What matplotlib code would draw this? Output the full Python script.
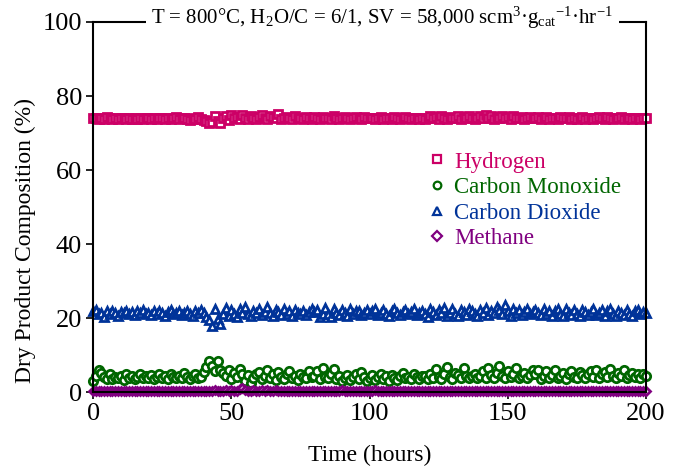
import numpy as np
import matplotlib
matplotlib.use('Agg')
import matplotlib.pyplot as plt

plt.rcParams['font.family'] = ['Liberation Serif', 'DejaVu Serif']
plt.rcParams['mathtext.fontset'] = 'custom'
plt.rcParams['mathtext.rm'] = 'Liberation Serif'
plt.rcParams['mathtext.it'] = 'Liberation Serif:italic'

# time on stream, hours (one reading per hour)
hours = np.arange(0, 201, 1)

hydrogen = [
    74.2, 74.0, 73.8, 74.1, 73.9, 74.3, 74.0, 73.8, 74.1, 73.9, 74.0, 74.2, 73.8, 74.0, 73.9, 74.1, 73.7, 74.0, 73.9, 74.2,
    74.0, 73.8, 74.1, 73.9, 74.2, 74.0, 73.7, 74.1, 73.9, 74.0, 74.3, 73.8, 74.0, 74.2, 73.9, 73.6, 74.1, 73.8, 74.4, 73.9,
    73.5, 73.2, 72.6, 73.0, 74.6, 73.2, 72.8, 74.0, 74.5, 73.6, 74.8, 74.0, 74.3, 73.8, 74.9, 74.1, 73.7, 74.6, 74.0, 73.9,
    74.4, 75.0, 74.1, 73.8, 74.6, 74.3, 74.0, 75.1, 73.9, 74.2, 74.4, 74.0, 73.8, 74.5, 74.1, 74.0, 73.9, 74.3, 74.1, 73.8,
    74.3, 74.0, 73.8, 74.4, 74.1, 74.0, 73.9, 74.5, 74.2, 73.9, 74.1, 74.3, 74.0, 73.7, 74.2, 74.4, 74.0, 73.8, 74.3, 74.1,
    74.0, 74.2, 73.9, 74.1, 74.3, 73.8, 74.0, 74.2, 73.9, 74.4, 74.1, 73.8, 74.0, 74.3, 74.1, 73.9, 74.2, 74.0, 73.8, 74.1,
    73.8, 74.2, 74.6, 74.0, 74.3, 73.9, 74.5, 74.1, 73.8, 74.4, 74.0, 74.2, 74.7, 73.9, 74.3, 74.0, 74.5, 74.1, 73.8, 74.2,
    74.5, 74.0, 74.8, 74.2, 74.6, 73.9, 74.4, 74.1, 74.7, 74.0, 74.3, 73.9, 74.5, 74.2, 74.0, 74.4, 73.8, 74.1, 74.3, 74.0,
    74.0, 74.3, 73.9, 74.1, 74.4, 73.8, 74.2, 74.0, 73.9, 74.3, 74.1, 74.0, 74.4, 73.8, 74.2, 73.9, 74.1, 74.3, 73.7, 74.0,
    74.2, 73.9, 74.1, 74.4, 74.0, 73.8, 74.3, 74.1, 73.9, 74.2, 74.0, 74.3, 73.8, 74.1, 74.0, 73.9, 74.2, 74.0, 73.8, 74.1,
    74.0]
co2 = [
    21.8, 22.2, 21.0, 21.5, 20.2, 21.9, 21.2, 22.0, 21.4, 20.6, 21.7, 21.3, 22.0, 21.1, 21.6, 20.9, 21.8, 21.3, 22.1, 21.0,
    21.5, 20.8, 21.9, 21.2, 22.0, 21.4, 20.7, 21.6, 22.1, 21.0, 21.5, 21.9, 20.9, 21.4, 22.0, 21.2, 20.6, 21.8, 21.3, 22.1,
    21.5, 20.4, 19.5, 18.0, 22.5, 19.8, 18.3, 21.0, 22.8, 20.5, 22.3, 21.0, 20.2, 22.6, 21.4, 22.9, 21.0, 20.6, 22.0, 21.5,
    22.5, 20.8, 21.6, 22.9, 21.3, 20.5, 22.2, 21.7, 20.9, 22.4, 21.1, 21.8, 20.6, 22.3, 21.5, 21.0, 22.0, 20.8, 21.7, 22.4,
    21.6, 22.3, 20.3, 21.2, 22.7, 21.0, 20.2, 22.4, 21.5, 20.8, 22.2, 21.3, 20.6, 22.6, 21.0, 21.8, 22.0, 20.9, 21.4, 22.3,
    21.0, 21.8, 22.4, 20.9, 21.5, 22.1, 21.2, 20.7, 21.9, 22.5, 21.3, 20.8, 21.6, 22.2, 21.0, 21.7, 22.6, 20.9, 21.4, 22.0,
    21.0, 20.4, 22.5, 21.6, 20.8, 22.2, 21.3, 22.8, 20.7, 21.5, 22.4, 21.0, 20.5, 22.3, 21.7, 20.8, 22.6, 21.9, 21.2, 20.6,
    22.3, 21.5, 22.8, 20.9, 22.0, 21.4, 23.0, 22.2, 21.1, 23.6, 21.8, 20.7, 22.5, 21.3, 22.1, 20.9, 21.7, 22.4, 21.0, 21.6,
    22.3, 21.5, 20.8, 22.5, 21.1, 22.0, 20.6, 21.8, 22.6, 21.2, 20.7, 22.4, 21.5, 20.9, 22.2, 21.0, 20.5, 22.3, 21.6, 20.9,
    21.7, 22.5, 20.8, 21.4, 22.2, 20.6, 21.9, 22.4, 21.1, 20.7, 22.0, 21.5, 20.9, 22.3, 21.2, 20.6, 21.8, 22.1, 21.0, 21.6,
    21.5]
co = [
    3.0, 4.5, 6.0, 5.2, 4.0, 3.5, 4.8, 3.6, 4.2, 3.8, 4.5, 3.4, 4.9, 3.9, 4.3, 3.5, 4.0, 5.0, 3.7, 4.4,
    3.8, 4.6, 3.5, 4.2, 5.0, 3.9, 4.4, 3.6, 4.8, 4.1, 3.7, 4.5, 3.9, 5.1, 4.0, 3.6, 4.3, 4.8, 3.9, 4.2,
    5.5, 6.8, 8.5, 7.0, 5.8, 8.3, 6.0, 5.2, 4.5, 6.0, 3.5, 5.2, 4.0, 6.2, 5.0, 3.0, 4.6, 2.5, 3.8, 4.8,
    5.5, 3.6, 4.4, 6.0, 3.9, 4.8, 3.2, 5.4, 4.1, 3.6, 4.9, 5.7, 3.8, 4.4, 3.3, 5.0, 4.2, 3.7, 5.6, 4.0,
    4.5, 5.8, 3.6, 6.5, 4.2, 3.8, 5.0, 6.2, 3.5, 4.4, 3.0, 3.8, 4.6, 3.4, 4.0, 4.8, 3.6, 5.5, 4.2, 3.0,
    3.8, 4.6, 3.3, 4.1, 5.0, 3.6, 4.3, 3.1, 4.7, 3.9, 3.4, 4.5, 5.2, 3.7, 4.2, 3.5, 4.8, 4.0, 3.6, 4.4,
    4.5, 3.6, 5.0, 3.8, 6.2, 4.2, 3.5, 4.8, 6.8, 4.0, 3.6, 5.2, 4.6, 3.9, 6.5, 4.3, 3.7, 4.5, 5.0, 3.8,
    4.4, 5.6, 3.9, 6.4, 4.6, 3.8, 5.2, 7.0, 4.3, 3.7, 5.8, 4.1, 4.8, 6.6, 3.9, 4.5, 5.3, 3.8, 4.7, 5.9,
    4.8, 6.0, 3.6, 4.4, 5.6, 3.9, 4.7, 6.0, 3.8, 4.4, 5.2, 3.6, 4.9, 5.8, 4.2, 3.7, 5.5, 4.6, 3.9, 4.8,
    5.6, 4.2, 6.1, 3.9, 4.8, 5.5, 4.0, 6.3, 4.5, 3.8, 5.1, 4.4, 5.9, 3.9, 4.6, 5.3, 4.1, 4.8, 3.8, 5.0,
    4.5]
methane = [
    0.2, 0.3, 0.2, 0.3, 0.2, 0.4, 0.2, 0.3, 0.2, 0.3, 0.2, 0.3, 0.4, 0.2, 0.3, 0.2, 0.3, 0.2, 0.3, 0.4,
    0.3, 0.2, 0.3, 0.4, 0.2, 0.3, 0.2, 0.3, 0.4, 0.2, 0.3, 0.3, 0.2, 0.4, 0.3, 0.2, 0.3, 0.4, 0.2, 0.3,
    0.3, 0.2, 0.4, 0.3, 0.5, 0.3, 0.4, 0.3, 0.5, 0.4, 0.6, 0.3, 0.4, 0.8, 1.2, 0.5, 0.3, 0.4, 0.6, 0.3,
    0.4, 0.5, 0.3, 0.6, 0.4, 0.3, 0.5, 0.3, 0.4, 0.3, 0.2, 0.3, 0.4, 0.3, 0.2, 0.3, 0.4, 0.3, 0.2, 0.3,
    0.3, 0.4, 0.3, 0.2, 0.3, 0.4, 0.3, 0.2, 0.3, 0.4, 0.5, 0.3, 0.4, 0.3, 0.2, 0.3, 0.4, 0.3, 0.2, 0.3,
    0.4, 0.3, 0.5, 0.3, 0.4, 0.2, 0.3, 0.4, 0.3, 0.2, 0.3, 0.4, 0.3, 0.2, 0.3, 0.4, 0.3, 0.2, 0.3, 0.4,
    0.3, 0.4, 0.3, 0.2, 0.3, 0.4, 0.3, 0.2, 0.3, 0.4, 0.3, 0.2, 0.3, 0.4, 0.3, 0.2, 0.3, 0.4, 0.3, 0.2,
    0.3, 0.4, 0.3, 0.2, 0.3, 0.4, 0.3, 0.2, 0.3, 0.4, 0.3, 0.2, 0.3, 0.4, 0.3, 0.2, 0.3, 0.4, 0.3, 0.2,
    0.3, 0.2, 0.4, 0.3, 0.2, 0.3, 0.4, 0.3, 0.2, 0.3, 0.4, 0.3, 0.2, 0.3, 0.4, 0.3, 0.2, 0.3, 0.4, 0.3,
    0.2, 0.3, 0.4, 0.3, 0.2, 0.3, 0.4, 0.3, 0.2, 0.3, 0.3, 0.4, 0.2, 0.3, 0.4, 0.3, 0.2, 0.3, 0.4, 0.3,
    0.3]

series = [
    ('Hydrogen', hydrogen, 's', '#CC0066'),
    ('Carbon Monoxide', co, 'o', '#006600'),
    ('Carbon Dioxide', co2, '^', '#003399'),
    ('Methane', methane, 'D', '#800080'),
]

fig = plt.figure(figsize=(6.75, 4.68), dpi=100)
ax = fig.add_axes([0.138, 0.162, 0.819, 0.791])

for name, vals, mk, col in series:
    ms = {'s': 5.4, 'o': 6.0, '^': 6.2, 'D': 4.4}[mk]
    ax.plot(hours, vals, linestyle='none', marker=mk, markersize=ms,
            markerfacecolor='white', markeredgecolor=col, markeredgewidth=2.0,
            label=name, clip_on=False)

ax.set_xlim(0, 200)
ax.set_ylim(0, 100)
ax.set_xticks([0, 50, 100, 150, 200])
ax.set_yticks([0, 20, 40, 60, 80, 100])
ax.tick_params(direction='out', length=5, width=1.2, labelsize=19, pad=3)
for sp in ax.spines.values():
    sp.set_linewidth(1.5)

ax.set_xlabel('Time (hours)', fontsize=17, labelpad=14)
ax.set_ylabel('Dry Product Composition (%)', fontsize=17)
ax.yaxis.set_label_coords(-0.103, 0.41)

ax.text(0.523, 1.01,
        r'T = 800°C, H$_2$O/C = 6/1, SV = 58,000 scm$^3$·g$_{\mathrm{cat}}$$^{-1}$·hr$^{-1}$',
        transform=ax.transAxes, ha='center', va='center', fontsize=15,
        bbox=dict(facecolor='white', edgecolor='none', pad=4))

leg = ax.legend(loc='upper left', bbox_to_anchor=(0.587, 0.675), frameon=False,
                fontsize=16.5, handletextpad=0.3, labelspacing=0.2,
                handlelength=0.9, borderaxespad=0, labelcolor='markeredgecolor')
for h in leg.legend_handles:
    h.set_markersize(5.5)
    h.set_markeredgewidth(1.6)

fig.savefig('out.png', dpi=100)
